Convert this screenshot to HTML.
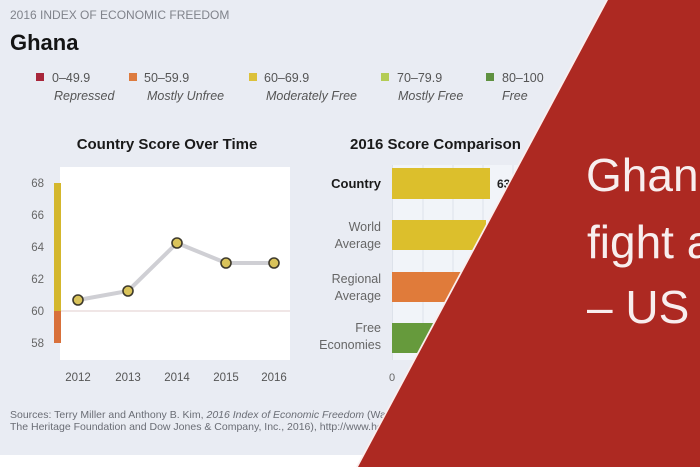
<!DOCTYPE html>
<html><head><meta charset="utf-8"><style>
html,body{margin:0;padding:0;background:#fff;}
svg{display:block;}
</style></head><body>
<svg width="700" height="467" viewBox="0 0 700 467" xmlns="http://www.w3.org/2000/svg" font-family="Liberation Sans, sans-serif">
<rect x="0" y="0" width="700" height="455" fill="#e9ecf3"/>
<rect x="0" y="455" width="700" height="12" fill="#ffffff"/>
<text x="10" y="19" font-size="12" fill="#80838b">2016 INDEX OF ECONOMIC FREEDOM</text>
<text x="10" y="50" font-size="22" font-weight="bold" fill="#141414">Ghana</text>
<g font-size="12.5" fill="#555">
<rect x="36" y="73" width="8" height="8" fill="#a8263a"/>
<text x="52" y="82">0–49.9</text>
<text x="54" y="100" font-style="italic">Repressed</text>
<rect x="129" y="73" width="8" height="8" fill="#dd7b3e"/>
<text x="144" y="82">50–59.9</text>
<text x="147" y="100" font-style="italic">Mostly Unfree</text>
<rect x="249" y="73" width="8" height="8" fill="#dcc13a"/>
<text x="264" y="82">60–69.9</text>
<text x="266" y="100" font-style="italic">Moderately Free</text>
<rect x="381" y="73" width="8" height="8" fill="#b4cc55"/>
<text x="397" y="82">70–79.9</text>
<text x="398" y="100" font-style="italic">Mostly Free</text>
<rect x="486" y="73" width="8" height="8" fill="#5f9140"/>
<text x="502" y="82">80–100</text>
<text x="502" y="100" font-style="italic">Free</text>
</g>
<text x="167" y="149" font-size="15" font-weight="bold" fill="#1a1a1a" text-anchor="middle">Country Score Over Time</text>
<rect x="60" y="167" width="230" height="193" fill="#ffffff"/>
<line x1="60" y1="311" x2="290" y2="311" stroke="#e6d6d6" stroke-width="1.2"/>
<rect x="54" y="183" width="7" height="128" fill="#d4b72c"/>
<rect x="54" y="311" width="7" height="32" fill="#d8703a"/>
<g font-size="11.5" fill="#666" text-anchor="end">
<text x="44" y="187">68</text>
<text x="44" y="219">66</text>
<text x="44" y="251">64</text>
<text x="44" y="283">62</text>
<text x="44" y="315">60</text>
<text x="44" y="347">58</text>
</g>
<polyline points="78,300 128,291 177,243 226,263 274,263" fill="none" stroke="#cfcfd4" stroke-width="4"/>
<g fill="#d9c35a" stroke="#3e3a2c" stroke-width="1.6">
<circle cx="78" cy="300" r="5"/>
<circle cx="128" cy="291" r="5"/>
<circle cx="177" cy="243" r="5"/>
<circle cx="226" cy="263" r="5"/>
<circle cx="274" cy="263" r="5"/>
</g>
<g font-size="11.5" fill="#555" text-anchor="middle">
<text x="78" y="381">2012</text>
<text x="128" y="381">2013</text>
<text x="177" y="381">2014</text>
<text x="226" y="381">2015</text>
<text x="274" y="381">2016</text>
</g>
<text x="350" y="149" font-size="15" font-weight="bold" fill="#1a1a1a">2016 Score Comparison</text>
<rect x="392" y="165" width="200" height="195" fill="#f1f4f9"/>
<g stroke="#dde2ea" stroke-width="1">
<line x1="392.5" y1="165" x2="392.5" y2="360"/>
<line x1="423" y1="165" x2="423" y2="360"/>
<line x1="453" y1="165" x2="453" y2="360"/>
<line x1="483" y1="165" x2="483" y2="360"/>
<line x1="513" y1="165" x2="513" y2="360"/>
</g>
<rect x="392" y="168" width="98" height="31" fill="#dcbf2c"/>
<rect x="392" y="220" width="94" height="30" fill="#dcbf2c"/>
<rect x="392" y="272" width="85" height="30" fill="#e07b3a"/>
<rect x="392" y="323" width="131" height="30" fill="#669a3c"/>
<text x="497" y="188" font-size="12" font-weight="bold" fill="#222">63.0</text>
<text x="381" y="188" font-size="13" font-weight="bold" fill="#1a1a1a" text-anchor="end">Country</text>
<g font-size="12.5" fill="#666" text-anchor="end">
<text x="381" y="231">World</text>
<text x="381" y="248">Average</text>
<text x="381" y="283">Regional</text>
<text x="381" y="300">Average</text>
<text x="381" y="332">Free</text>
<text x="381" y="349">Economies</text>
</g>
<text x="392" y="381" font-size="11" fill="#666" text-anchor="middle">0</text>
<g font-size="10.5" fill="#6a6d75">
<text x="10" y="418">Sources: Terry Miller and Anthony B. Kim, <tspan font-style="italic">2016 Index of Economic Freedom</tspan> (Washington, DC:</text>
<text x="10" y="430">The Heritage Foundation and Dow Jones &amp; Company, Inc., 2016), http://www.heritage.org/index</text>
</g>
<polygon points="606,0 700,0 700,467 356,467" fill="#fbeeee"/>
<polygon points="608,0 700,0 700,467 358,467" fill="#ad2922"/>
<g font-size="46" fill="#f8eeee">
<text x="586" y="191">Ghana</text>
<text x="587" y="258">fight a</text>
<text x="587" y="323">– US</text>
</g>
</svg>
</body></html>
